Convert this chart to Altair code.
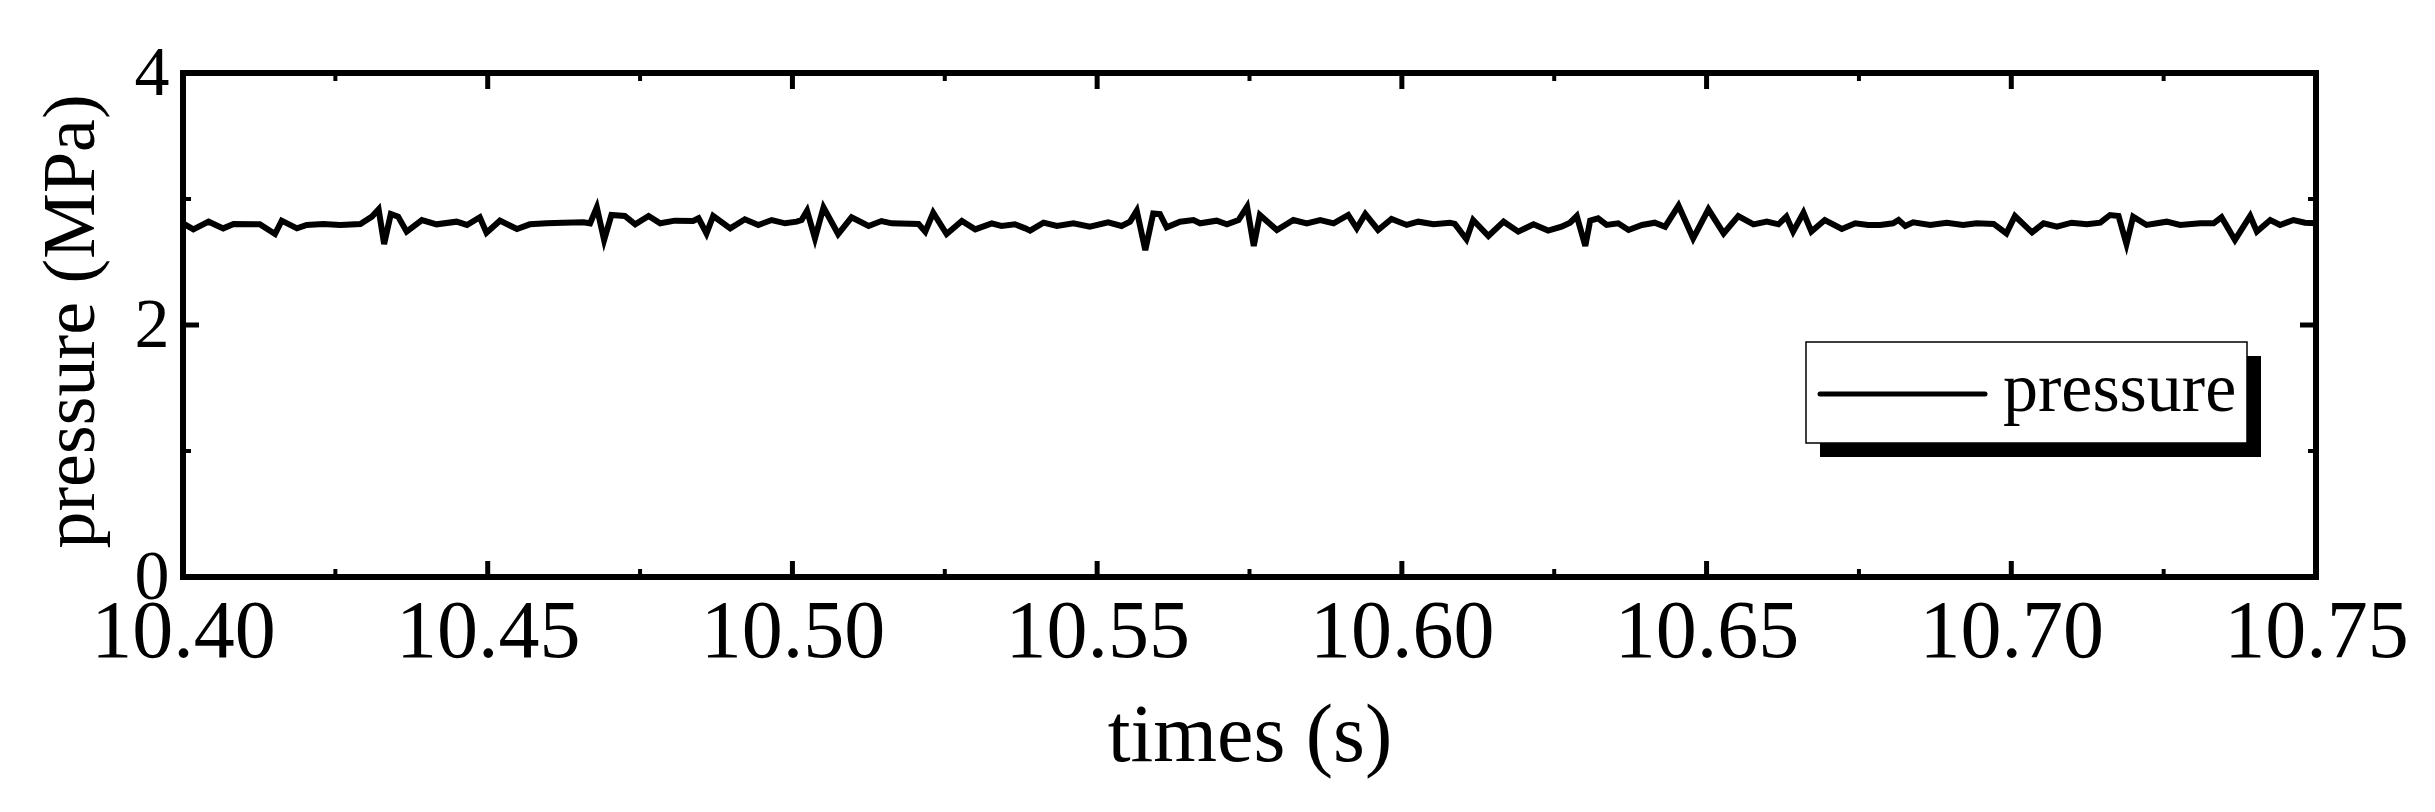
import altair as alt
import pandas as pd

# ---- data ----
times = [
    10.4000, 10.4017, 10.4042, 10.4066, 10.4083, 10.4126, 10.4151, 10.4162, 10.4187, 10.4203,
    10.4230, 10.4258, 10.4291, 10.4310, 10.4321, 10.4330, 10.4341, 10.4353, 10.4367, 10.4392,
    10.4416, 10.4449, 10.4466, 10.4487, 10.4498, 10.4520, 10.4548, 10.4569, 10.4597, 10.4624,
    10.4657, 10.4668, 10.4679, 10.4691,
    10.4703, 10.4725, 10.4742, 10.4764, 10.4783, 10.4807, 10.4837, 10.4846, 10.4859, 10.4870,
    10.4898, 10.4922, 10.4944, 10.4966, 10.4988, 10.5007, 10.5015, 10.5024, 10.5037, 10.5051,
    10.5075, 10.5097, 10.5125, 10.5146, 10.5163, 10.5207, 10.5218, 10.5231, 10.5253, 10.5278,
    10.5300, 10.5327, 10.5343, 10.5365, 10.5382,
    10.5390, 10.5412, 10.5434, 10.5461, 10.5488, 10.5518, 10.5540, 10.5554, 10.5565, 10.5579,
    10.5592, 10.5603, 10.5614, 10.5636, 10.5658, 10.5669, 10.5696, 10.5713, 10.5732, 10.5746,
    10.5757, 10.5767, 10.5795, 10.5822, 10.5844, 10.5866, 10.5888, 10.5912, 10.5926, 10.5940,
    10.5961, 10.5983, 10.6008, 10.6027, 10.6052, 10.6079,
    10.6087, 10.6106, 10.6117, 10.6142, 10.6167, 10.6191, 10.6216, 10.6240, 10.6262, 10.6276,
    10.6287, 10.6301, 10.6309, 10.6322, 10.6336, 10.6355, 10.6372, 10.6394, 10.6415, 10.6432,
    10.6454, 10.6478, 10.6503, 10.6528, 10.6552, 10.6577, 10.6599, 10.6618, 10.6631, 10.6642,
    10.6659, 10.6672, 10.6694, 10.6722, 10.6744, 10.6765,
    10.6785, 10.6806, 10.6815, 10.6826, 10.6839, 10.6867, 10.6894, 10.6921, 10.6943, 10.6971,
    10.6992, 10.7006, 10.7034, 10.7053, 10.7075, 10.7099, 10.7124, 10.7146, 10.7162, 10.7176,
    10.7189, 10.7200, 10.7222, 10.7255, 10.7277, 10.7310, 10.7332, 10.7345, 10.7367, 10.7392,
    10.7403, 10.7425, 10.7441, 10.7463, 10.7482, 10.7500,
]
pressure = [
    2.807, 2.759, 2.820, 2.767, 2.802, 2.799, 2.722, 2.828, 2.767, 2.794,
    2.802, 2.794, 2.802, 2.860, 2.918, 2.643, 2.881, 2.860, 2.741, 2.833,
    2.799, 2.820, 2.794, 2.855, 2.733, 2.828, 2.762, 2.799, 2.807, 2.812,
    2.815, 2.807, 2.934, 2.675,
    2.873, 2.865, 2.799, 2.865, 2.807, 2.828, 2.825, 2.847, 2.727, 2.865,
    2.767, 2.839, 2.794, 2.833, 2.807, 2.820, 2.833, 2.907, 2.688, 2.934,
    2.722, 2.855, 2.786, 2.825, 2.807, 2.802, 2.741, 2.891, 2.722, 2.825,
    2.759, 2.807, 2.786, 2.799, 2.767,
    2.749, 2.812, 2.786, 2.807, 2.780, 2.815, 2.786, 2.820, 2.907, 2.595,
    2.886, 2.881, 2.775, 2.820, 2.833, 2.807, 2.828, 2.799, 2.833, 2.939,
    2.627, 2.873, 2.754, 2.833, 2.807, 2.833, 2.807, 2.873, 2.767, 2.881,
    2.754, 2.841, 2.794, 2.820, 2.799, 2.812,
    2.802, 2.680, 2.833, 2.706, 2.820, 2.741, 2.799, 2.749, 2.780, 2.812,
    2.865, 2.627, 2.828, 2.847, 2.794, 2.807, 2.754, 2.794, 2.812, 2.780,
    2.947, 2.688, 2.918, 2.727, 2.865, 2.799, 2.820, 2.799, 2.860, 2.741,
    2.891, 2.741, 2.833, 2.762, 2.807, 2.794,
    2.794, 2.807, 2.833, 2.786, 2.815, 2.794, 2.812, 2.794, 2.807, 2.802,
    2.727, 2.865, 2.735, 2.807, 2.780, 2.812, 2.799, 2.812, 2.873, 2.865,
    2.643, 2.860, 2.794, 2.820, 2.794, 2.807, 2.807, 2.855, 2.675, 2.865,
    2.741, 2.833, 2.794, 2.833, 2.812, 2.807,
]
series_name = "pressure"

x_major = [10.40, 10.45, 10.50, 10.55, 10.60, 10.65, 10.70, 10.75]
x_minor = [10.425, 10.475, 10.525, 10.575, 10.625, 10.675, 10.725]
y_major = [0, 2, 4]
y_minor = [1, 3]

x_title = "times (s)"
y_title = "pressure (MPa)"

# ---- layout / style ----
W, H = 2133, 504
FONT = "Liberation Serif"
MAJ, MIN = 16, 8

df = pd.DataFrame({"t": times, "p": pressure})
xmaj = pd.DataFrame({"t": x_major})
xmin = pd.DataFrame({"t": x_minor})
ymaj = pd.DataFrame({"p": y_major})
ymin = pd.DataFrame({"p": y_minor})
leg = pd.DataFrame({"series": [series_name]})

xs = alt.Scale(domain=[10.40, 10.75], nice=False, zero=False)
ys = alt.Scale(domain=[0, 4], nice=False, zero=True)

x_axis = alt.Axis(
    values=x_major, format=".2f", title=x_title, grid=False, domain=False, ticks=False,
    labelFont=FONT, labelFontSize=82, labelColor="black", labelPadding=14,
    labelFlush=False, labelOverlap=False, labelLimit=1000,
    titleFont=FONT, titleFontSize=82, titleFontWeight="normal", titleColor="black",
    titleX=W / 2, titleY=183, titleBaseline="alphabetic", titleAlign="center",
    titleLimit=2000,
)
y_axis = alt.Axis(
    values=y_major, format="d", title=y_title, grid=False, domain=False, ticks=False,
    labelFont=FONT, labelFontSize=70, labelColor="black", labelPadding=14,
    labelFlush=False, labelOverlap=False, labelLimit=1000,
    titleFont=FONT, titleFontSize=74, titleFontWeight="normal", titleColor="black",
    titleAngle=270, titleX=-112, titleY=H / 2 - 4, titleBaseline="middle", titleAlign="center",
    titleLimit=2000,
)

X = alt.X("t:Q", scale=xs, axis=x_axis)
Y = alt.Y("p:Q", scale=ys, axis=y_axis)

line = alt.Chart(df).mark_line(color="black", strokeWidth=6, strokeJoin="miter").encode(x=X, y=Y)

def xticks(data, length, sw):
    bottom = alt.Chart(data).mark_rule(color="black", strokeWidth=sw).encode(
        x=X, y=alt.value(H), y2=alt.value(H - length))
    top = alt.Chart(data).mark_rule(color="black", strokeWidth=sw).encode(
        x=X, y=alt.value(0), y2=alt.value(length))
    return [bottom, top]

def yticks(data, length, sw):
    left = alt.Chart(data).mark_rule(color="black", strokeWidth=sw).encode(
        y=Y, x=alt.value(0), x2=alt.value(length))
    right = alt.Chart(data).mark_rule(color="black", strokeWidth=sw).encode(
        y=Y, x=alt.value(W), x2=alt.value(W - length))
    return [left, right]

ticks = xticks(xmaj, MAJ, 5) + xticks(xmin, MIN, 4) + yticks(ymaj, MAJ, 5) + yticks(ymin, MIN, 4)

# legend box with drop shadow
shadow = alt.Chart(leg).mark_rect(color="black").encode(
    x=alt.value(1637), x2=alt.value(2078), y=alt.value(283), y2=alt.value(384))
box = alt.Chart(leg).mark_rect(fill="white", stroke="black", strokeWidth=1.5).encode(
    x=alt.value(1623), x2=alt.value(2064), y=alt.value(269), y2=alt.value(370))
leg_line = alt.Chart(leg).mark_rule(color="black", strokeWidth=5, strokeCap="round").encode(
    x=alt.value(1637), x2=alt.value(1802), y=alt.value(321))
leg_text = alt.Chart(leg).mark_text(
    font=FONT, fontSize=70, align="left", baseline="alphabetic", color="black").encode(
    x=alt.value(1820), y=alt.value(338), text="series:N")

chart = alt.layer(line, *ticks, shadow, box, leg_line, leg_text).properties(
    width=W, height=H,
    autosize=alt.AutoSizeParams(type="none"),
    padding={"left": 175, "top": 65, "right": 100, "bottom": 220},
    background="white",
).configure_view(stroke="black", strokeWidth=6)

chart.save("out.html", embed_options={"renderer": "svg", "actions": False})
